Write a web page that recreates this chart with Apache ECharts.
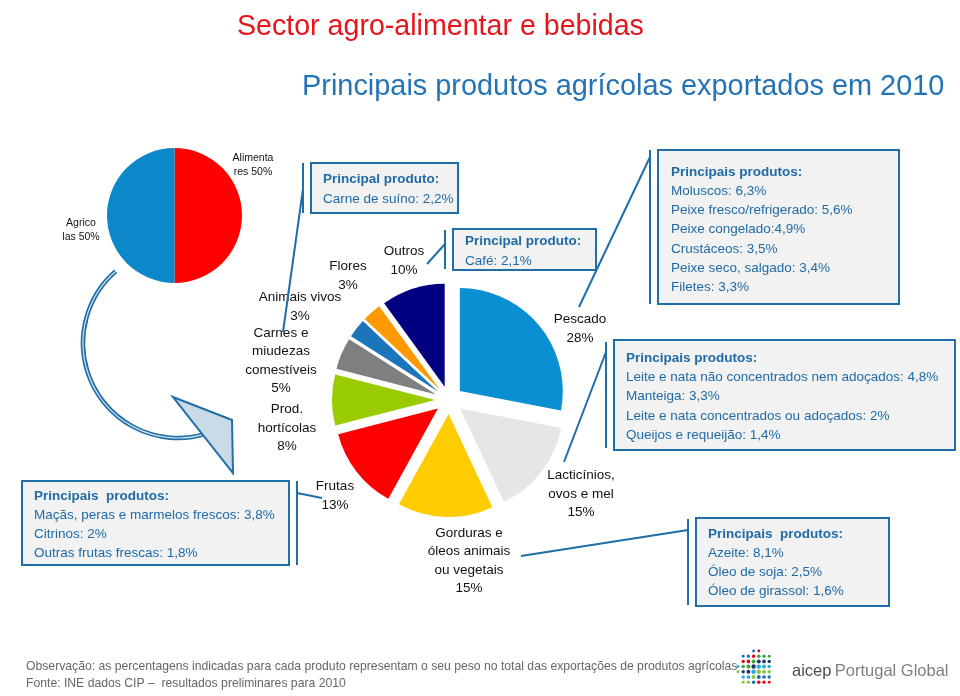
<!DOCTYPE html>
<html><head><meta charset="utf-8">
<script src="https://cdn.jsdelivr.net/npm/echarts@6/dist/echarts.min.js"></script>
<style>html,body{margin:0;padding:0;background:#fff}#c{width:960px;height:696px}</style>
</head><body><div id="c"></div>
<script>
// ---------- data ----------
const titleText = 'Sector agro-alimentar e bebidas';
const subtitleText = 'Principais produtos agrícolas exportados em 2010';

const smallNames = ['Alimentares', 'Agrícolas'];
const smallValues = [50, 50];
const smallLabelText = ['Alimenta\nres', 'Agrico\nlas'];

const bigNames = ['Pescado', 'Lacticínios, ovos e mel', 'Gorduras e óleos animais ou vegetais', 'Frutas',
  'Prod. hortícolas', 'Carnes e miudezas comestíveis', 'Animais vivos', 'Flores', 'Outros'];
const bigValues = [28, 15, 15, 13, 8, 5, 3, 3, 10];
const bigLabelText = ['Pescado', 'Lacticínios,\novos e mel', 'Gorduras e\nóleos animais\nou vegetais', 'Frutas',
  'Prod.\nhortícolas', 'Carnes e\nmiudezas\ncomestíveis', 'Animais vivos', 'Flores', 'Outros'];

const boxCarnes = ['Principal produto:', 'Carne de suíno: 2,2%'];
const boxOutros = ['Principal produto:', 'Café: 2,1%'];
const boxPescado = ['Principais produtos:', 'Moluscos: 6,3%', 'Peixe fresco/refrigerado: 5,6%', 'Peixe congelado:4,9%',
  'Crustáceos: 3,5%', 'Peixe seco, salgado: 3,4%', 'Filetes: 3,3%'];
const boxLact = ['Principais produtos:', 'Leite e nata não concentrados nem adoçados: 4,8%', 'Manteiga: 3,3%',
  'Leite e nata concentrados ou adoçados: 2%', 'Queijos e requeijão: 1,4%'];
const boxFrutas = ['Principais  produtos:', 'Maçãs, peras e marmelos frescos: 3,8%', 'Citrinos: 2%', 'Outras frutas frescas: 1,8%'];
const boxGord = ['Principais  produtos:', 'Azeite: 8,1%', 'Óleo de soja: 2,5%', 'Óleo de girassol: 1,6%'];

const footer1 = 'Observação: as percentagens indicadas para cada produto representam o seu peso no total das exportações de produtos agrícolas';
const footer2 = 'Fonte: INE dados CIP –  resultados preliminares para 2010';

// ---------- styles / layout ----------
const FONT = '"Liberation Sans", Arial, Helvetica, sans-serif';
const smallColors = ['#ff0000', '#0a88c9'];
const bigColors = ['#0a8fd2', '#e6e6e6', '#ffcc00', '#ff0000', '#99cc00', '#7f7f7f', '#1b75bb', '#ff9900', '#000080'];
const smallLabelPos = [[253, 165], [81, 230]];
const bigLabelPos = [[580, 329], [581, 494], [469, 561], [335, 496], [287, 428], [281, 361], [300, 307], [348, 276], [404, 261]];
const BLUE = '#1f6ea8';
const BOXTXT = '#1f6aa5';

const boxes = [
  {lines: boxCarnes, x: 311, y: 163, w: 147, h: 50, bx: 303, by1: 163, by2: 213, tx: 323, ty: 179, dy: 20},
  {lines: boxOutros, x: 453, y: 229, w: 143, h: 41, bx: 445, by1: 230, by2: 269, tx: 465, ty: 241, dy: 20},
  {lines: boxPescado, x: 658, y: 150, w: 241, h: 154, bx: 650, by1: 150, by2: 304, tx: 671, ty: 172, dy: 19.2},
  {lines: boxLact, x: 614, y: 340, w: 341, h: 110, bx: 606, by1: 342, by2: 448, tx: 626, ty: 358, dy: 19.3},
  {lines: boxFrutas, x: 22, y: 481, w: 267, h: 84, bx: 297, by1: 481, by2: 565, tx: 34, ty: 496, dy: 19},
  {lines: boxGord, x: 696, y: 518, w: 193, h: 88, bx: 688, by1: 519, by2: 605, tx: 708, ty: 534, dy: 19}
];
const connectors = [
  [283, 332, 303, 189], [427, 264, 445, 244], [579, 307, 650, 157],
  [606, 352, 564, 462], [297, 493, 322, 498], [521, 556, 688, 530]
];

const graphics = [];
graphics.push({type: 'text', x: 237, y: 27, z: 100, style: {text: titleText, font: '28.6px ' + FONT, fill: '#e8141b', textAlign: 'left', textVerticalAlign: 'middle'}});
graphics.push({type: 'text', x: 302, y: 87, z: 100, style: {text: subtitleText, font: '28.9px ' + FONT, fill: '#2473b5', textAlign: 'left', textVerticalAlign: 'middle'}});

// pie slice labels (text built from the data arrays)
const LH = 18.5;
bigNames.forEach((n, i) => {
  const rows = (bigLabelText[i] + '\n' + bigValues[i] + '%').split('\n');
  rows.forEach((t, j) => {
    graphics.push({type: 'text', z: 75, x: bigLabelPos[i][0], y: bigLabelPos[i][1] + (j - (rows.length - 1) / 2) * LH,
      style: {text: t, font: '13.5px ' + FONT, fill: '#111', textAlign: 'center', textVerticalAlign: 'middle'}});
  });
});

boxes.forEach(b => {
  graphics.push({type: 'rect', z: 50, shape: {x: b.x, y: b.y, width: b.w, height: b.h}, style: {fill: '#f2f2f2', stroke: BLUE, lineWidth: 2}});
  graphics.push({type: 'line', z: 60, shape: {x1: b.bx, y1: b.by1, x2: b.bx, y2: b.by2}, style: {stroke: BLUE, lineWidth: 2}});
  b.lines.forEach((t, i) => {
    graphics.push({type: 'text', z: 70, x: b.tx, y: b.ty + i * b.dy, style: {text: t, font: (i === 0 ? 'bold ' : '') + '13.5px ' + FONT, fill: BOXTXT, textAlign: 'left', textVerticalAlign: 'middle'}});
  });
});
connectors.forEach(c => {
  graphics.push({type: 'line', z: 80, shape: {x1: c[0], y1: c[1], x2: c[2], y2: c[3]}, style: {stroke: BLUE, lineWidth: 2}});
});

// curved arrow from small pie to big pie
graphics.push({type: 'arc', z: 40, shape: {cx: 178, cy: 343, r: 95, startAngle: 73 * Math.PI / 180, endAngle: 229 * Math.PI / 180, clockwise: true}, style: {stroke: BLUE, lineWidth: 4.5, fill: null}});
graphics.push({type: 'arc', z: 41, shape: {cx: 178, cy: 343, r: 95, startAngle: 73 * Math.PI / 180, endAngle: 229 * Math.PI / 180, clockwise: true}, style: {stroke: '#cfe1ee', lineWidth: 1.2, fill: null}});
graphics.push({type: 'polygon', z: 45, shape: {points: [[173, 397], [232, 420], [233, 473]]}, style: {fill: '#c8dbe6', stroke: BLUE, lineWidth: 2}});

// footer
graphics.push({type: 'text', z: 100, x: 26, y: 667, style: {text: footer1, font: '12.2px ' + FONT, fill: '#666', textAlign: 'left', textVerticalAlign: 'middle'}});
graphics.push({type: 'text', z: 100, x: 26, y: 684, style: {text: footer2, font: '12.2px ' + FONT, fill: '#666', textAlign: 'left', textVerticalAlign: 'middle'}});

// logo (decorative dots)
const dotColors = ['#e30613', '#1d70b7', '#8cc63f', '#27aae1', '#1b3a6b', '#3aaa35'];
let k = 0;
for (let gx = -18; gx <= 18; gx += 5.2) {
  for (let gy = -18; gy <= 18; gy += 5.2) {
    const d = Math.sqrt(gx * gx + gy * gy);
    if (d > 19) continue;
    const r = 2.4 - d * 0.05;
    graphics.push({type: 'circle', z: 100, shape: {cx: 756 + gx, cy: 669 + gy, r: r}, style: {fill: dotColors[(k * 5 + 3) % dotColors.length]}});
    k++;
  }
}
graphics.push({type: 'text', z: 100, x: 792, y: 671, style: {rich: {a: {fontSize: 16.5, fontFamily: FONT, fill: '#4d4d4d'}, b: {fontSize: 16.5, fontFamily: FONT, fill: '#808080'}}, text: '{a|aicep} {b|Portugal Global}', textAlign: 'left', textVerticalAlign: 'middle'}});

const chart = echarts.init(document.getElementById('c'));
chart.setOption({
  animation: false,
  textStyle: {fontFamily: FONT},
  series: [
    {
      type: 'pie', center: [174.5, 215.5], radius: 67.5, startAngle: 90, clockwise: true, silent: true,
      avoidLabelOverlap: false,
      data: smallNames.map((n, i) => ({name: n, value: smallValues[i], itemStyle: {color: smallColors[i]}})),
      label: {show: true, position: 'outside', formatter: p => smallLabelText[p.dataIndex] + ' ' + p.value + '%',
        fontSize: 10.5, lineHeight: 14, color: '#111', align: 'center', fontFamily: FONT},
      labelLine: {show: false},
      labelLayout: p => ({x: smallLabelPos[p.dataIndex][0], y: smallLabelPos[p.dataIndex][1], align: 'center', verticalAlign: 'middle'})
    },
    {
      type: 'pie', center: [449, 400], radius: 103, startAngle: 90, clockwise: true, silent: true,
      avoidLabelOverlap: false, selectedMode: 'multiple', selectedOffset: 14,
      select: {itemStyle: {borderWidth: 0}},
      data: bigNames.map((n, i) => ({name: n, value: bigValues[i], selected: true, itemStyle: {color: bigColors[i]}})),
      label: {show: false},
      labelLine: {show: false}
    }
  ],
  graphic: {elements: graphics}
});
</script>
</body></html>
